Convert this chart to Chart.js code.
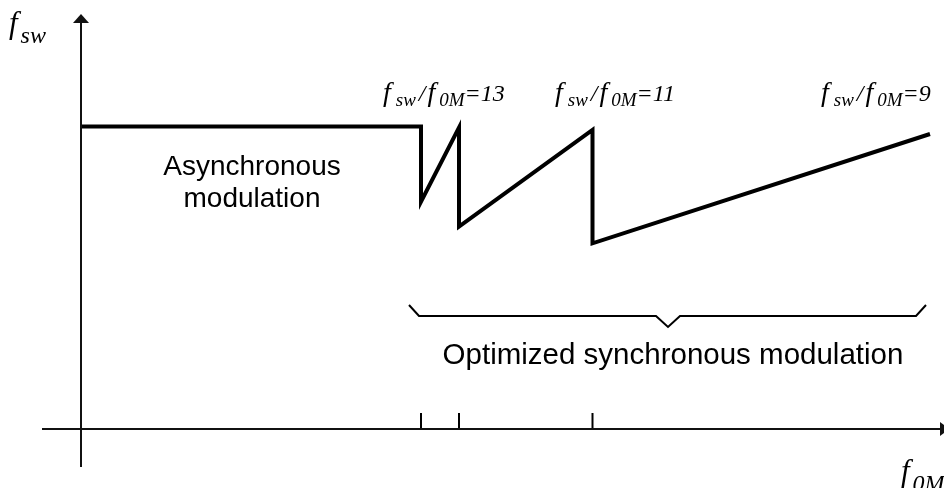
<!DOCTYPE html>
<html>
<head>
<meta charset="utf-8">
<script src="https://cdn.jsdelivr.net/npm/chart.js@4.4.1/dist/chart.umd.min.js"></script>
<style>
  html, body { margin: 0; padding: 0; background: #fff; }
  #wrap { position: relative; width: 944px; height: 488px; }
</style>
</head>
<body>
<div id="wrap"><canvas id="c"></canvas></div>
<script>
  // switching frequency vs. modulation frequency (arbitrary units)
  const f0M = [0, 34.0, 34.0, 37.8, 37.8, 51.15, 51.15, 84.9];
  const fsw = [30.25, 30.25, 22.73, 30.15, 20.23, 29.9, 18.57, 29.5];

  // f0M where each synchronous ratio starts, and the ratio written above it
  const syncStarts = [34.0, 37.8, 51.15];
  const ratioText = ["13", "11", "9"];

  // curly brace under the synchronous range
  const braceX = [32.8, 33.8, 57.5, 58.7, 59.9, 83.5, 84.5];
  const braceY = [12.4, 11.3, 11.3, 10.2, 11.3, 11.3, 12.4];

  const TICK_LEN = 1.6;
  const SERIF = '"Liberation Serif", "Times New Roman", serif';
  const SANS = '"Liberation Sans", Arial, sans-serif';

  function pts(xs, ys) {
    return xs.map((x, i) => ({ x, y: ys[i] }));
  }

  // draws text runs like f_sw / f_0M = 13, each run with its own size and baseline shift
  function drawMath(ctx, x, y, runs) {
    let cx = x;
    for (const r of runs) {
      const [t, size, dy, gap] = r;
      cx += gap || 0;
      ctx.font = "italic " + size + "px " + SERIF;
      ctx.fillText(t, cx, y + dy);
      cx += ctx.measureText(t).width;
    }
  }

  function ratioRuns(n) {
    return [
      ["f", 28, 0, 0],
      ["sw", 19, 5, 5],
      ["/", 24, 0, 3],
      ["f", 28, 0, 2],
      ["0M", 19, 5, 4],
      ["=" + n, 24, 0, 0],
    ];
  }

  const axesAndText = {
    id: "axesAndText",
    afterDatasetsDraw(chart) {
      const ctx = chart.ctx;
      const xs = chart.scales.x;
      const ys = chart.scales.y;
      const px = (v) => xs.getPixelForValue(v);
      const py = (v) => ys.getPixelForValue(v);

      ctx.save();
      ctx.strokeStyle = "#111";
      ctx.fillStyle = "#111";
      ctx.lineWidth = 2;

      // horizontal axis with arrow
      ctx.beginPath();
      ctx.moveTo(px(-3.9), py(0));
      ctx.lineTo(px(85.9), py(0));
      ctx.stroke();
      ctx.beginPath();
      ctx.moveTo(px(86.8), py(0));
      ctx.lineTo(px(85.9), py(0) - 7);
      ctx.lineTo(px(85.9), py(0) + 7);
      ctx.closePath();
      ctx.fill();

      // vertical axis with arrow
      ctx.beginPath();
      ctx.moveTo(px(0), py(-3.8));
      ctx.lineTo(px(0), py(40.6));
      ctx.stroke();
      ctx.beginPath();
      ctx.moveTo(px(0), py(41.5));
      ctx.lineTo(px(0) - 8, py(40.6));
      ctx.lineTo(px(0) + 8, py(40.6));
      ctx.closePath();
      ctx.fill();

      ctx.fillStyle = "#000";
      ctx.textBaseline = "alphabetic";
      ctx.textAlign = "left";

      // axis names
      drawMath(ctx, 9, 33, [["f", 31, 0, 0], ["sw", 24, 10, 3]]);
      drawMath(ctx, 901, 481, [["f", 31, 0, 0], ["0M", 24, 10, 3]]);

      // ratio labels above each synchronous segment
      const labelX = [383, 555, 821];
      ratioText.forEach((n, i) => drawMath(ctx, labelX[i], 101, ratioRuns(n)));

      // region names
      ctx.textAlign = "center";
      ctx.font = "28px " + SANS;
      ctx.fillText("Asynchronous", px(17.1), py(25.4));
      ctx.fillText("modulation", px(17.1), py(22.2));
      ctx.font = "29.5px " + SANS;
      ctx.fillText("Optimized synchronous modulation", px(59.2), py(6.5));
      ctx.restore();
    },
  };

  const lineStyle = {
    borderColor: "#000",
    pointRadius: 0,
    fill: false,
    tension: 0,
    clip: false,
  };

  new Chart(document.getElementById("c"), {
    type: "scatter",
    data: {
      datasets: [
        Object.assign({ data: pts(f0M, fsw), showLine: true, borderWidth: 4, borderJoinStyle: "miter" }, lineStyle),
        Object.assign({ data: pts(braceX, braceY), showLine: true, borderWidth: 2, borderJoinStyle: "miter" }, lineStyle),
      ].concat(
        syncStarts.map((x) =>
          Object.assign({ data: [{ x, y: 0 }, { x, y: TICK_LEN }], showLine: true, borderWidth: 2 }, lineStyle)
        )
      ),
    },
    options: {
      responsive: true,
      maintainAspectRatio: false,
      animation: false,
      layout: { padding: 0 },
      plugins: { legend: { display: false }, tooltip: { enabled: false } },
      scales: {
        x: { type: "linear", display: false, min: -8.1, max: 86.3 },
        y: { type: "linear", display: false, min: -5.9, max: 42.9 },
      },
    },
    plugins: [axesAndText],
  });
</script>
</body>
</html>
